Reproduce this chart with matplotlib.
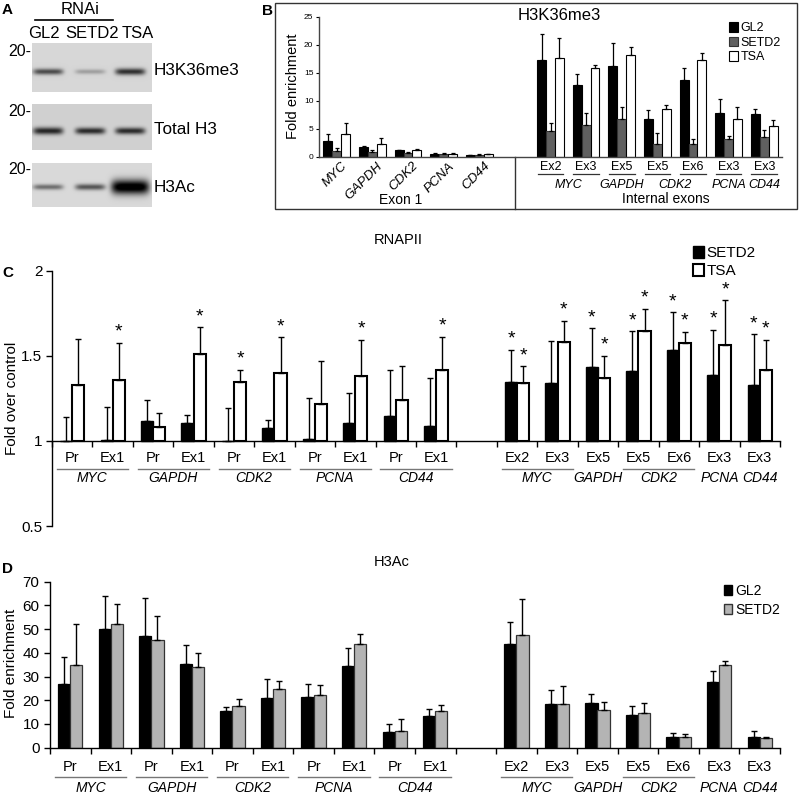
import numpy as np
import matplotlib
matplotlib.use('Agg')
import matplotlib.pyplot as plt
from matplotlib import transforms
from matplotlib.patches import Rectangle, Patch

plt.rcParams['font.family'] = ['Liberation Sans', 'DejaVu Sans']
plt.rcParams['axes.linewidth'] = 1.0

W, H = 800, 795

# ---------------- Panel A (western blot) ----------------
blot_lanes = ['GL2', 'SETD2', 'TSA']
blot_rows = ['H3K36me3', 'Total H3', 'H3Ac']
blot_intensity = [[0.55, 0.22, 0.66], [0.68, 0.66, 0.66], [0.42, 0.52, 0.95]]
blot_thickness = [[1.0, 0.8, 1.1], [1.2, 1.1, 1.1], [0.9, 1.0, 2.4]]
blot_background = [0.84, 0.82, 0.85]

# ---------------- Panel B (H3K36me3) ----------------
b_categories = ['MYC', 'GAPDH', 'CDK2', 'PCNA', 'CD44', '',
                'Ex2', 'Ex3', 'Ex5', 'Ex5', 'Ex6', 'Ex3', 'Ex3']
b_int_genes = ['MYC', 'MYC', 'GAPDH', 'CDK2', 'CDK2', 'PCNA', 'CD44']
b_series = ['GL2', 'SETD2', 'TSA']
b_gl2 = [2.8, 1.79, 1.13, 0.48, 0.30, 17.26, 12.74, 16.19, 6.67, 13.75, 7.86, 7.56]
b_gl2_err = [1.2, 0.17, 0.12, 0.12, 0.06, 4.64, 2.02, 4.05, 1.66, 2.02, 2.5, 0.94]
b_setd2 = [1.07, 0.83, 0.71, 0.54, 0.36, 4.64, 5.6, 6.79, 2.26, 2.26, 3.15, 3.5]
b_setd2_err = [0.43, 0.37, 0.12, 0.11, 0.06, 1.31, 2.14, 2.14, 1.91, 0.84, 0.6, 1.2]
b_tsa = [4.05, 2.32, 1.13, 0.54, 0.42, 17.68, 15.77, 18.15, 8.51, 17.2, 6.67, 5.48]
b_tsa_err = [2.02, 1.01, 0.17, 0.11, 0.12, 3.45, 0.53, 1.49, 0.66, 1.3, 2.2, 1.02]

# ---------------- Panels C and D shared categories ----------------
cd_regions = ['Pr', 'Ex1'] * 5 + ['', 'Ex2', 'Ex3', 'Ex5', 'Ex5', 'Ex6', 'Ex3', 'Ex3']
cd_genes = ['MYC', 'MYC', 'GAPDH', 'GAPDH', 'CDK2', 'CDK2', 'PCNA', 'PCNA', 'CD44', 'CD44', '',
            'MYC', 'MYC', 'GAPDH', 'CDK2', 'CDK2', 'PCNA', 'CD44']

# ---------------- Panel C (RNAPII, fold over control) ----------------
c_series = ['SETD2', 'TSA']
c_setd2 = [1.0, 1.005, 1.118, 1.106, 1.0, 1.075, 1.014, 1.108, 1.147, 1.09,
           1.347, 1.339, 1.437, 1.414, 1.537, 1.39, 1.329]
c_setd2_err = [0.143, 0.195, 0.125, 0.049, 0.192, 0.049, 0.239, 0.176, 0.273, 0.282,
               0.19, 0.251, 0.226, 0.231, 0.22, 0.263, 0.298]
c_tsa = [1.33, 1.36, 1.084, 1.51, 1.349, 1.398, 1.22, 1.382, 1.243, 1.42,
         1.339, 1.582, 1.369, 1.649, 1.575, 1.567, 1.42]
c_tsa_err = [0.268, 0.216, 0.079, 0.159, 0.069, 0.212, 0.252, 0.214, 0.2, 0.192,
             0.1, 0.124, 0.133, 0.129, 0.068, 0.261, 0.176]
c_setd2_sig = [0, 0, 0, 0, 0, 0, 0, 0, 0, 0, 1, 0, 1, 1, 1, 1, 1]
c_tsa_sig = [0, 1, 0, 1, 1, 1, 0, 1, 0, 1, 1, 1, 1, 1, 1, 1, 1]

# ---------------- Panel D (H3Ac) ----------------
d_series = ['GL2', 'SETD2']
d_gl2 = [26.8, 49.9, 47.1, 35.4, 15.3, 21.1, 21.5, 34.3, 6.7, 13.5,
         43.6, 18.4, 18.7, 13.9, 4.4, 27.8, 4.6]
d_gl2_err = [11.6, 14.2, 16.2, 7.9, 1.7, 7.9, 5.3, 7.9, 3.4, 2.9,
             9.4, 5.8, 4.1, 3.7, 1.8, 4.7, 2.4]
d_setd2 = [34.7, 52.2, 45.5, 34.2, 17.6, 24.9, 22.4, 43.6, 7.0, 15.6,
           47.7, 18.3, 15.7, 14.6, 4.4, 34.9, 3.9]
d_setd2_err = [17.3, 8.4, 10.2, 5.6, 3.1, 3.4, 4.2, 4.5, 5.1, 2.3,
               15.1, 7.6, 3.4, 4.4, 1.4, 1.8, 0.7]


def fx(x):
    return x / W


def fy(y):
    return 1 - y / H


fig = plt.figure(figsize=(W / 100, H / 100), dpi=100)

# overlay in pixel coordinates for panel A and frame decorations
ov = fig.add_axes([0, 0, 1, 1])
ov.axis('off')

box_y = [(43, 92), (104, 150), (163, 207)]
box_x = (32, 152)
lane_centers = [16, 58, 98]
for r, (y0, y1) in enumerate(box_y):
    h = y1 - y0
    w = box_x[1] - box_x[0]
    yy, xx = np.mgrid[0:h * 2, 0:w * 2] / 2.0
    img = np.full(yy.shape, blot_background[r])
    band_y = h * 0.58 if r < 2 else h * 0.54
    for cx, a, th in zip(lane_centers, blot_intensity[r], blot_thickness[r]):
        hw = 15 if th < 2 else 19
        prof = np.exp(-np.abs((xx - cx) / hw) ** 6) * np.exp(-((yy - band_y) / (3.0 * th)) ** 2)
        img = img - a * prof
    img = np.clip(img, 0, 1)
    ov.imshow(img, cmap='gray', vmin=0, vmax=1, extent=(box_x[0], box_x[1], y1, y0),
              origin='upper', aspect='auto', interpolation='bilinear')
    fig.text(fx(31), fy((y0 + y1) / 2 - 16), '20-', fontsize=11.5, ha='right', va='center')
    fig.text(fx(154), fy((y0 + y1) / 2 + 3), blot_rows[r], fontsize=12.3, ha='left', va='center')

for lab, xc in zip(blot_lanes, [44, 92, 138]):
    fig.text(fx(xc), fy(34), lab, fontsize=12, ha='center', va='center')
fig.text(fx(80), fy(10), 'RNAi', fontsize=12, ha='center', va='center')
ov.plot([35, 113], [20, 20], color='black', lw=1.2)
ov.set_xlim(0, W)
ov.set_ylim(H, 0)

# panel letters
fig.text(fx(2), fy(10), 'A', fontsize=11, fontweight='bold', ha='left', va='center')
fig.text(fx(262), fy(11), 'B', fontsize=11, fontweight='bold', ha='left', va='center')
fig.text(fx(2), fy(273), 'C', fontsize=11, fontweight='bold', ha='left', va='center')
fig.text(fx(2), fy(569), 'D', fontsize=11, fontweight='bold', ha='left', va='center')

# ---------------- Panel B ----------------
ov.add_patch(Rectangle((275, 3), 522, 206, fill=False, lw=1.0, edgecolor='#333333'))
axB = fig.add_axes([fx(319), fy(156.7), (782 - 319) / W, 140 / H])
axB.set_facecolor('none')
b_pos = np.array([i for i, c in enumerate(b_categories) if c != '']) + 0.5
bw = 0.25
b_colors = ['black', '#606060', 'white']
b_edges = ['black', '#333333', 'black']
for k, (vals, errs) in enumerate([(b_gl2, b_gl2_err), (b_setd2, b_setd2_err), (b_tsa, b_tsa_err)]):
    xs = b_pos + (k - 1) * bw
    axB.bar(xs, vals, width=bw, color=b_colors[k], edgecolor=b_edges[k], linewidth=0.8,
            label=b_series[k], zorder=2)
    axB.errorbar(xs, vals, yerr=[np.zeros(len(vals)), errs], fmt='none', ecolor='black',
                 elinewidth=0.9, capsize=1.5, capthick=0.9, zorder=3)
axB.set_xlim(0, len(b_categories))
axB.set_ylim(0, 25)
axB.set_yticks([0, 5, 10, 15, 20, 25])
axB.tick_params(axis='y', labelsize=6, length=2, width=0.8, pad=2)
axB.set_xticks([])
for s in ['top', 'right']:
    axB.spines[s].set_visible(False)
axB.spines['left'].set_color('#444444')
axB.spines['bottom'].set_color('#444444')
axB.set_ylabel('Fold enrichment', fontsize=10.5, labelpad=3)
tB = transforms.blended_transform_factory(axB.transData, fig.transFigure)
gap_idx = b_categories.index('')
axB.plot([gap_idx + 0.5, gap_idx + 0.5], [fy(156.7), fy(209)], transform=tB, color='#333333',
         lw=1.0, clip_on=False)
n_ex1 = gap_idx
for i in range(n_ex1):
    axB.text(i + 0.62, fy(160), b_categories[i], transform=tB, rotation=45, ha='right', va='top',
             rotation_mode='anchor', fontsize=9.5, style='italic')
axB.text(2.3, fy(200), 'Exon 1', transform=tB, ha='center', va='center', fontsize=10)
int_pos = b_pos[n_ex1:]
for i, xp in enumerate(int_pos):
    axB.text(xp, fy(167), b_categories[gap_idx + 1 + i], transform=tB, ha='center', va='center',
             fontsize=9)
    axB.plot([xp - 0.36, xp + 0.36], [fy(173.5), fy(173.5)], transform=tB, color='#333333',
             lw=0.9, clip_on=False)
runs = []
for xp, g in zip(int_pos, b_int_genes):
    if runs and runs[-1][0] == g:
        runs[-1][1].append(xp)
    else:
        runs.append((g, [xp]))
for g, xs in runs:
    axB.text(np.mean(xs), fy(185), g, transform=tB, ha='center', va='center', fontsize=9,
             style='italic')
axB.text(9.75, fy(199), 'Internal exons', transform=tB, ha='center', va='center', fontsize=10)
fig.text(fx(559), fy(15), 'H3K36me3', fontsize=12, ha='center', va='center')
axB.legend(handles=[Patch(facecolor=b_colors[k], edgecolor=b_edges[k], linewidth=0.8,
                          label=b_series[k]) for k in range(3)],
           loc='upper left', bbox_to_anchor=(fx(729), fy(22)), bbox_transform=fig.transFigure,
           frameon=False, fontsize=9, handlelength=0.7, handleheight=0.8, handletextpad=0.2,
           labelspacing=0.2, borderpad=0, borderaxespad=0)


# ---------------- helper for C/D ----------------
def region_labels(ax, y_reg, y_line, y_gene, fs_reg, fs_gene):
    t = transforms.blended_transform_factory(ax.transData, fig.transFigure)
    pos = [i + 0.5 for i, r in enumerate(cd_regions) if r != '']
    regs = [r for r in cd_regions if r != '']
    gens = [g for g in cd_genes if g != '']
    idxs = [i for i, r in enumerate(cd_regions) if r != '']
    for p, r in zip(pos, regs):
        ax.text(p, fy(y_reg), r, transform=t, ha='center', va='center', fontsize=fs_reg)
    runs = []
    for i, p, g in zip(idxs, pos, gens):
        if runs and runs[-1][0] == g and runs[-1][2] == i - 1:
            runs[-1][1].append(p)
            runs[-1][2] = i
        else:
            runs.append([g, [p], i])
    for g, ps, _ in runs:
        ax.text(np.mean(ps), fy(y_gene), g, transform=t, ha='center', va='center',
                fontsize=fs_gene, style='italic')
        if len(ps) > 1:
            ax.plot([min(ps) - 0.38, max(ps) + 0.38], [fy(y_line), fy(y_line)], transform=t,
                    color='#777777', lw=1.0, clip_on=False)
    return pos


# ---------------- Panel C ----------------
axC = fig.add_axes([fx(52), fy(526), 728 / W, 255 / H])
axC.set_facecolor('none')
c_pos = np.array([i for i, r in enumerate(cd_regions) if r != '']) + 0.5
cw = 0.3
for k, (vals, errs, sig) in enumerate([(c_setd2, c_setd2_err, c_setd2_sig),
                                       (c_tsa, c_tsa_err, c_tsa_sig)]):
    xs = c_pos + (k - 0.5) * cw
    vals = np.array(vals)
    axC.bar(xs, vals - 1, bottom=1, width=cw, color=['black', 'white'][k], edgecolor='black',
            linewidth=[1.0, 1.5][k], zorder=2)
    axC.errorbar(xs, vals, yerr=[np.zeros(len(vals)), errs], fmt='none', ecolor='black',
                 elinewidth=1.0, capsize=2, capthick=1.0, zorder=3)
    for x, v, e, s in zip(xs, vals, errs, sig):
        if s:
            axC.annotate('*', xy=(x, v + e), xytext=(0, 4.5), textcoords='offset points',
                         ha='center', va='baseline', fontsize=14)
axC.set_xlim(0, len(cd_regions))
axC.set_ylim(0.5, 2)
axC.set_yticks([0.5, 1, 1.5, 2])
axC.set_yticklabels(['0.5', '1', '1.5', '2'])
axC.set_xticks(np.arange(0, len(cd_regions) + 1))
axC.set_xticklabels([])
axC.spines['bottom'].set_position(('data', 1))
for s in ['top', 'right']:
    axC.spines[s].set_visible(False)
axC.tick_params(axis='y', labelsize=11, length=4, width=1.0, pad=3)
axC.tick_params(axis='x', length=4, width=1.0, direction='out')
fig.text(fx(12), fy(398), 'Fold over control', fontsize=11, rotation=90, ha='center',
         va='center')
region_labels(axC, 458, 469, 478, 10.5, 10)
fig.text(fx(398), fy(240), 'RNAPII', fontsize=10.5, ha='center', va='center')
axC.legend(handles=[Patch(facecolor='black', edgecolor='black', label='SETD2'),
                    Patch(facecolor='white', edgecolor='black', linewidth=1.5, label='TSA')],
           loc='upper left', bbox_to_anchor=(fx(693), fy(246)), bbox_transform=fig.transFigure,
           frameon=False, fontsize=11, handlelength=0.7, handleheight=0.8, handletextpad=0.2,
           labelspacing=0.25, borderpad=0, borderaxespad=0)

# ---------------- Panel D ----------------
axD = fig.add_axes([fx(50), fy(747.7), 730 / W, 166 / H])
axD.set_facecolor('none')
dw = 0.3
for k, (vals, errs) in enumerate([(d_gl2, d_gl2_err), (d_setd2, d_setd2_err)]):
    xs = c_pos + (k - 0.5) * dw
    axD.bar(xs, vals, width=dw, color=['black', '#b4b4b4'][k],
            edgecolor=['black', '#333333'][k], linewidth=0.9, zorder=2)
    axD.errorbar(xs, vals, yerr=[np.zeros(len(vals)), errs], fmt='none', ecolor='black',
                 elinewidth=1.0, capsize=2, capthick=1.0, zorder=3)
axD.set_xlim(0, len(cd_regions))
axD.set_ylim(0, 70)
axD.set_yticks(np.arange(0, 71, 10))
axD.set_xticks(np.arange(0, len(cd_regions) + 1))
axD.set_xticklabels([])
for s in ['top', 'right']:
    axD.spines[s].set_visible(False)
axD.tick_params(axis='y', labelsize=11, length=4, width=1.0)
axD.tick_params(axis='x', length=4, width=1.0, direction='out')
fig.text(fx(11), fy(663), 'Fold enrichment', fontsize=11, rotation=90, ha='center',
         va='center')
region_labels(axD, 767, 777, 788, 10.5, 10)
fig.text(fx(392), fy(562), 'H3Ac', fontsize=10.5, ha='center', va='center')
axD.legend(handles=[Patch(facecolor='black', edgecolor='black', label='GL2'),
                    Patch(facecolor='#b4b4b4', edgecolor='#333333', label='SETD2')],
           loc='upper left', bbox_to_anchor=(fx(724), fy(584)), bbox_transform=fig.transFigure,
           frameon=False, fontsize=10, handlelength=0.6, handleheight=0.7, handletextpad=0.2,
           labelspacing=0.35, borderpad=0, borderaxespad=0)

fig.savefig('out.png', dpi=100)
